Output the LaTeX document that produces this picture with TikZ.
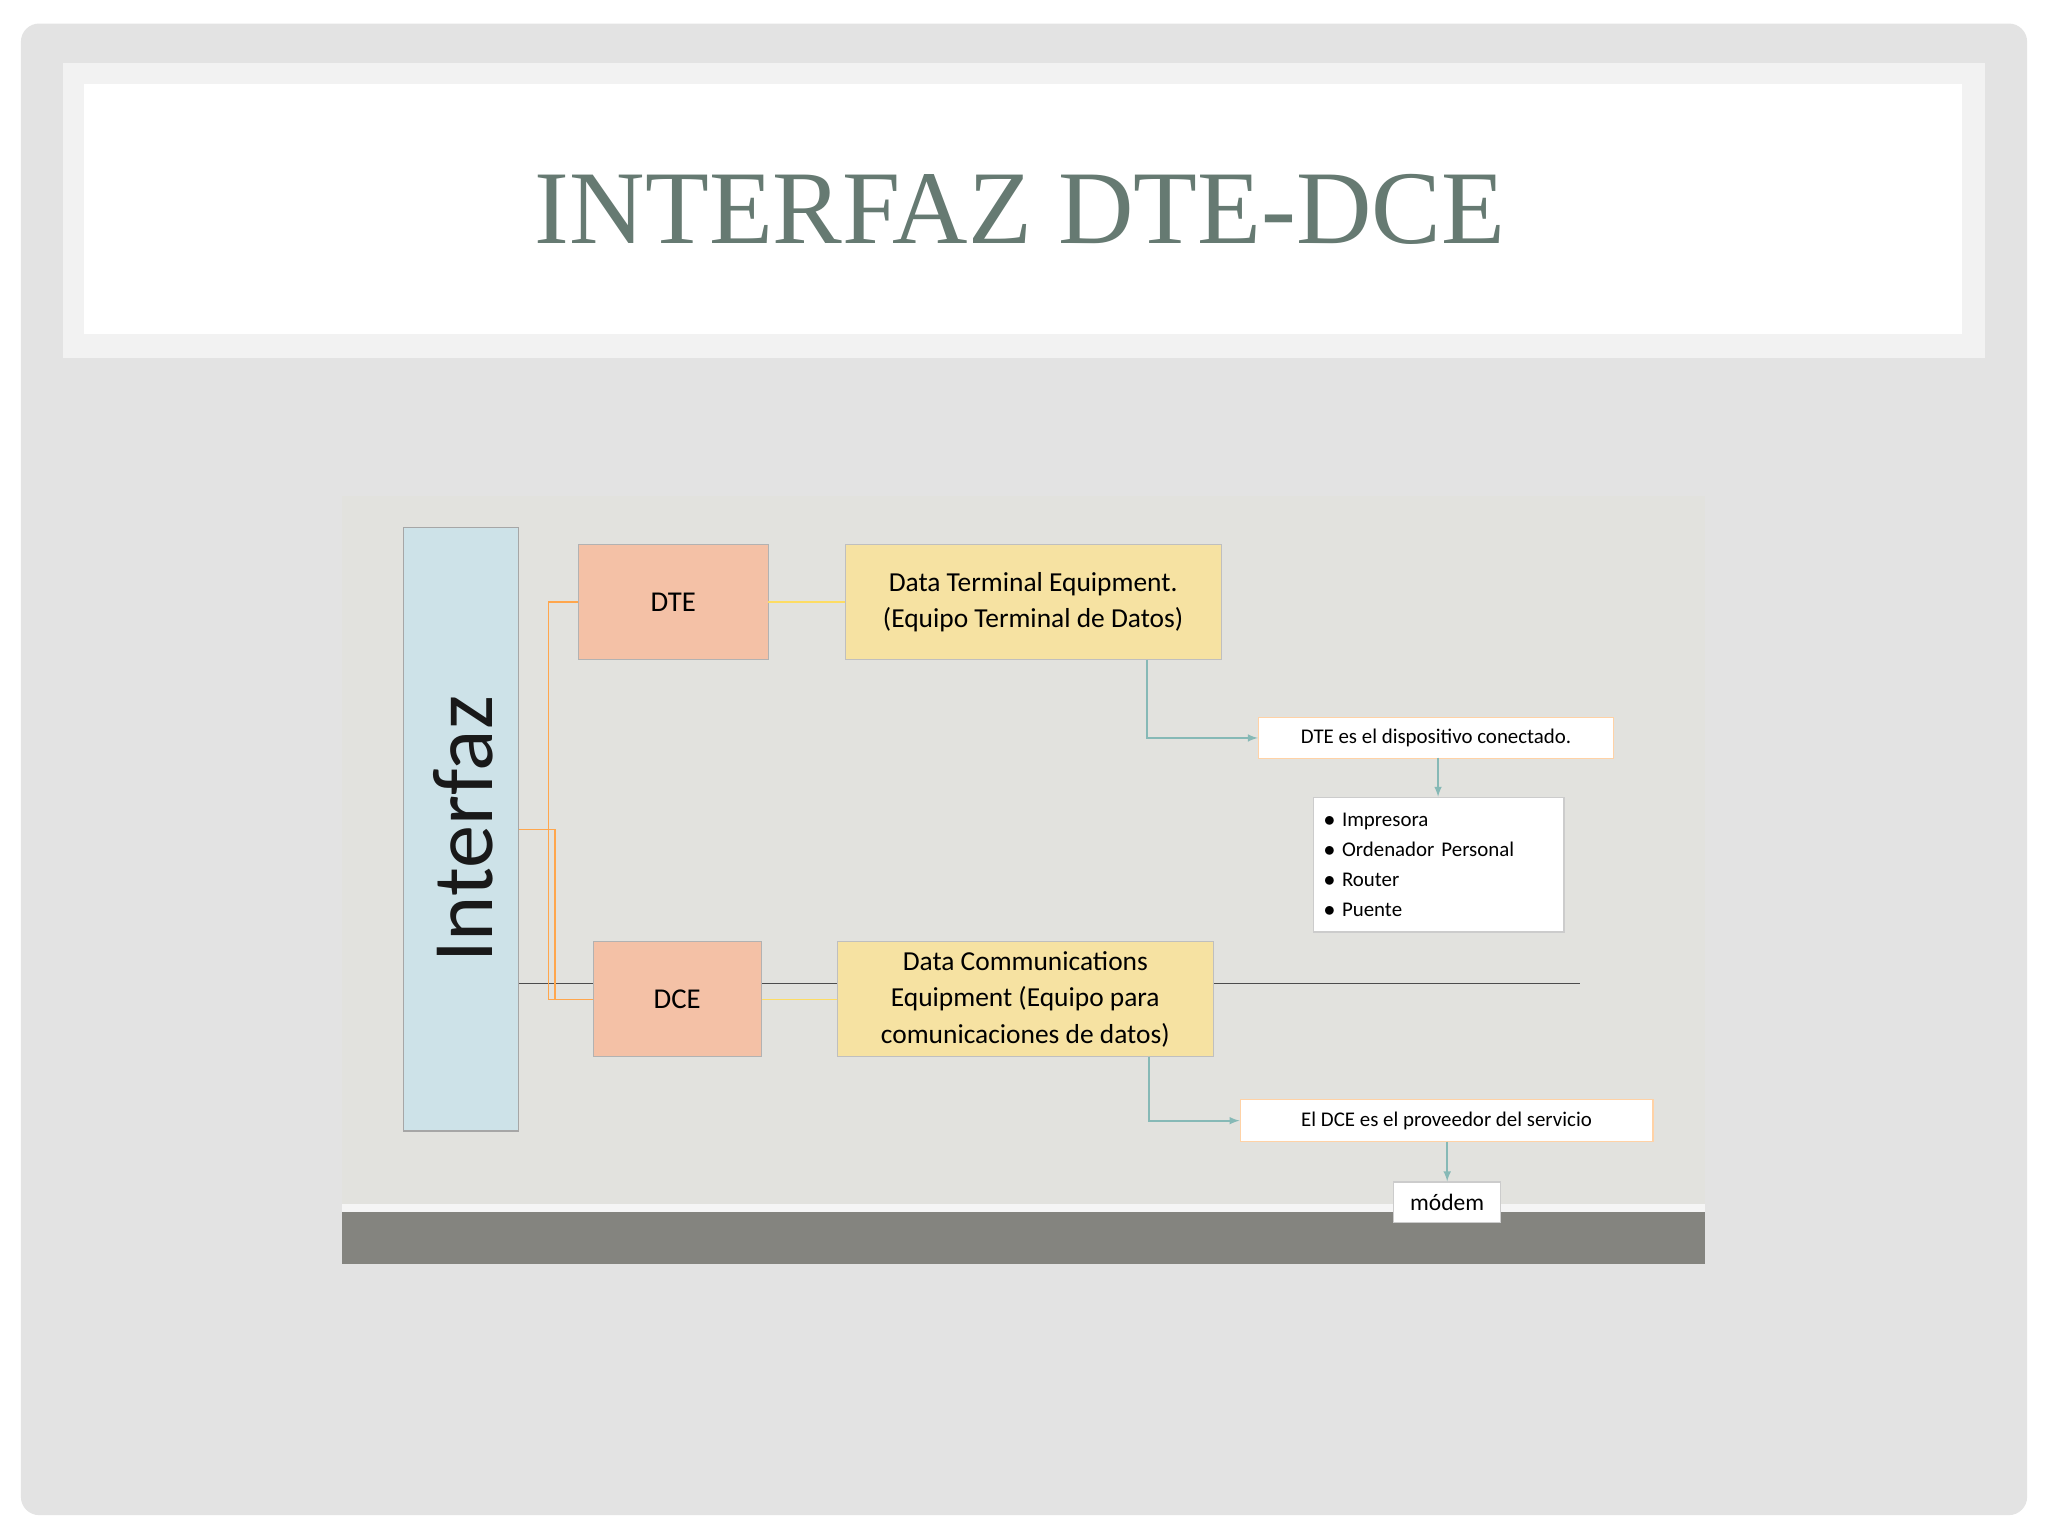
\documentclass[tikz,border=0pt]{standalone}
\usepackage{fontspec}
\setmainfont{Carlito}
\newfontfamily\titlefont{Liberation Serif}
\definecolor{titlec}{HTML}{667A72}
\definecolor{diagbg}{HTML}{E2E2DE}
\definecolor{band}{HTML}{84847F}
\definecolor{intf}{HTML}{CDE2E8}
\definecolor{sal}{HTML}{F4C1A6}
\definecolor{yelb}{HTML}{F6E2A2}
\definecolor{tealc}{HTML}{86B9B6}
\begin{document}
\begin{tikzpicture}[x=1pt,y=-1pt,
  wbox/.style={draw=orange!35, fill=white, line width=1pt, inner sep=3pt, font=\fontsize{16}{20}\selectfont, anchor=west},
  orl/.style={draw=orange!70, line width=1pt},
  yel/.style={draw=yellow!60!orange!60, line width=1pt},
  tea/.style={draw=tealc, line width=1.6pt, -latex}]
\useasboundingbox (0,0) rectangle (1568,1176);
\fill[white] (0,0) rectangle (1568,1176);
\fill[gray!22, rounded corners=14pt] (16,18) rectangle (1552,1160);
\fill[gray!10] (48,48) rectangle (1520,274);
\fill[white] (64,64) rectangle (1502,256);
\node[font=\titlefont\fontsize{80}{90}\selectfont, text=titlec] (title) at (781,160) {INTERFAZ DTE-DCE};
% diagram background
\fill[diagbg] (262,380) rectangle (1305,968);
\fill[gray!8] (262,922) rectangle (1305,928);
\fill[band] (262,928) rectangle (1305,968);
% long dark line
\coordinate (lineL) at (397,753);
\coordinate (lineR) at (1210,753);
\draw[gray!60!black, line width=1pt] (lineL) -- (lineR);
% nodes
\node[draw=gray!70, fill=intf, line width=1pt, minimum width=88pt, minimum height=462pt] (interfaz) at (353,635) {};
\node[rotate=90, font=\fontsize{66}{70}\selectfont, text=black!90] (itext) at (355,635) {Interfaz};
\node[draw=gray!60, fill=sal, minimum width=145pt, minimum height=88pt, font=\fontsize{22}{26}\selectfont] (dte) at (515.5,461) {DTE};
\node[draw=gray!60, fill=sal, minimum width=129pt, minimum height=88pt, font=\fontsize{22}{26}\selectfont] (dce) at (518.5,765) {DCE};
\node[draw=gray!50, fill=yelb, minimum width=288pt, minimum height=88pt, align=center, font=\fontsize{21}{28}\selectfont] (dted) at (791,461) {Data Terminal Equipment.\\(Equipo Terminal de Datos)};
\node[draw=gray!50, fill=yelb, minimum width=288pt, minimum height=88pt, align=center, font=\fontsize{21}{28}\selectfont] (dced) at (785,765) {Data Communications\\Equipment (Equipo para\\comunicaciones de datos)};
\node[wbox, minimum width=272pt, minimum height=31pt, inner xsep=8pt] (dtes) at (963,565) {DTE es el dispositivo conectado.};
\node[wbox, draw=gray!40, text width=176pt, minimum height=103pt, align=left, anchor=north west, inner xsep=8pt, font=\fontsize{16}{23}\selectfont] (list) at (1005,610) {$\bullet$ Impresora\\$\bullet$ Ordenador Personal\\$\bullet$ Router\\$\bullet$ Puente};
\node[wbox, minimum width=316pt, minimum height=32pt, inner xsep=8pt] (dces) at (949,858) {El DCE es el proveedor del servicio};
\node[wbox, draw=gray!40, minimum width=82pt, minimum height=31pt, anchor=center, font=\fontsize{18}{20}\selectfont] (modem) at (1108,920.5) {módem};
% orange connectors
\coordinate (j1) at (420,635);
\coordinate (j2) at (425,635);
\draw[orl] (interfaz.east |- j1) -- (j2);
\draw[orl] (dte.west) -- (dte.west -| j1) -- (dce.west -| j1) -- (dce.west);
\draw[orl] (j2) -- (j2 |- dce.west);
% yellow connectors
\draw[yel] (dte.east) -- (dted.west);
\draw[yel] (dce.east) -- (dced.west);
% teal arrows
\draw[tea] (878,505) |- (dtes.west);
\draw[tea] (1101,580) -- (list.north -| 1101,0);
\draw[tea] (880,809) |- (dces.west);
\draw[tea] (1108,874) -- (modem.north);
\end{tikzpicture}
\end{document}
